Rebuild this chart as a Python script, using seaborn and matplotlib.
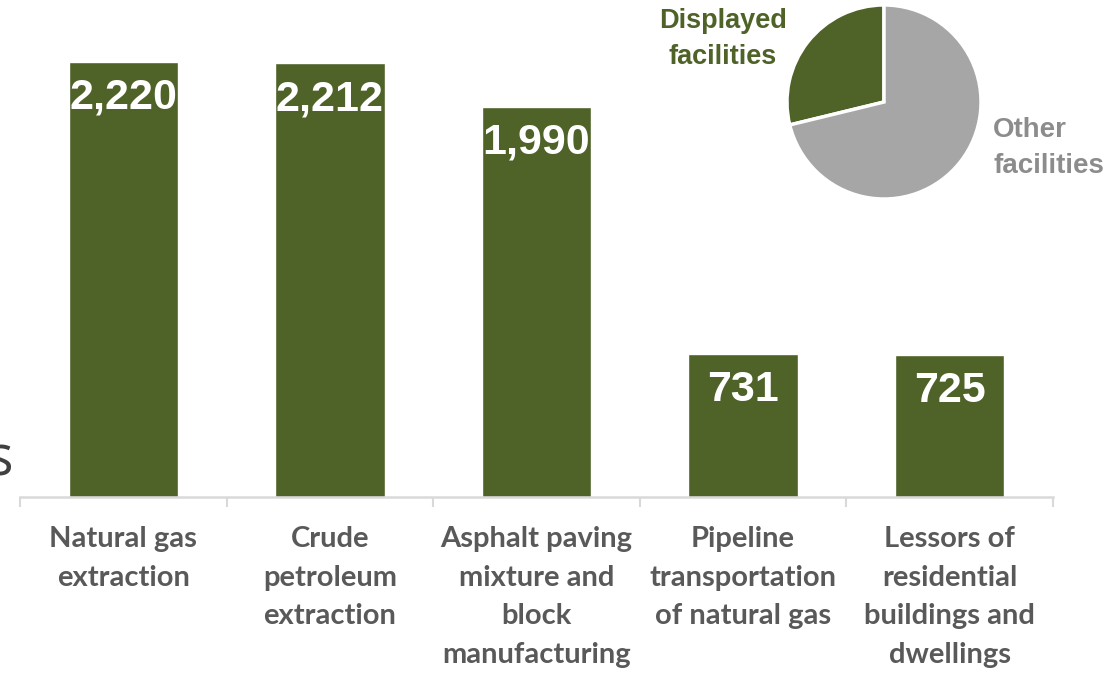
import matplotlib
matplotlib.use("Agg")
import matplotlib.pyplot as plt
import seaborn as sns
import numpy as np

# data
categories = [
    "Natural gas\nextraction",
    "Crude\npetroleum\nextraction",
    "Asphalt paving\nmixture and\nblock\nmanufacturing",
    "Pipeline\ntransportation\nof natural gas",
    "Lessors of\nresidential\nbuildings and\ndwellings",
]
facilities = [2220, 2212, 1990, 731, 725]
pie_labels = ["Displayed\nfacilities", "Other\nfacilities"]
pie_shares = [28.8, 71.2]

GREEN = "#4F6228"
GRAY = "#A6A6A6"
AXIS_GRAY = "#D9D9D9"
TEXT_GRAY = "#595959"

sns.set_theme(style="white")
plt.rcParams["font.family"] = ["Lato", "DejaVu Sans"]

fig = plt.figure(figsize=(11.17, 6.75), dpi=100)
W, H = 1117, 675

# main bar axes (pixel geometry -> figure fractions)
ax = fig.add_axes([20 / W, 178 / H, 1033 / W, 470.6 / H])
sns.barplot(x=categories, y=facilities, color=GREEN, saturation=1,
            width=0.53, ax=ax)
ax.set_ylim(0, 2400)
ax.set_xlim(-0.5, len(categories) - 0.5)
ax.set_yticks([])
ax.set_ylabel("")
for s in ["left", "top", "right"]:
    ax.spines[s].set_visible(False)
ax.spines["bottom"].set_color(AXIS_GRAY)
ax.spines["bottom"].set_linewidth(1.8)

# labels at bar centers, separator ticks at the boundaries
ax.set_xticks(range(len(categories)))
ax.set_xticklabels(categories, fontsize=21, fontweight="bold",
                   color=TEXT_GRAY, linespacing=1.6, va="top")
ax.tick_params(axis="x", which="major", length=0, pad=21)
ax.set_xticks(np.arange(-0.5, len(categories)), minor=True)
ax.tick_params(axis="x", which="minor", bottom=True, length=7, width=1.5,
               color=AXIS_GRAY, direction="out")

# value labels inside bar tops
for patch, v in zip(ax.patches, facilities):
    cx = patch.get_x() + patch.get_width() / 2
    ax.annotate(f"{v:,}", xy=(cx, patch.get_height()),
                xytext=(0, -26), textcoords="offset points",
                ha="center", va="center", color="white",
                fontsize=31, fontweight="bold",
                family=["Liberation Sans", "DejaVu Sans"])

# cut-off axis title at the left edge
fig.text(13 / W, 1 - 475 / H, "s", ha="right", va="baseline",
         fontsize=40, color="#404040", family=["Open Sans", "DejaVu Sans"])

# inset pie
pax = fig.add_axes([786 / W, 1 - 200 / H, 196 / W, 196 / H])
pax.pie(pie_shares, colors=[GREEN, GRAY], startangle=90,
        counterclock=True,
        wedgeprops=dict(edgecolor="white", linewidth=2.5))
pax.set_xlim(-1.01, 1.01)
pax.set_ylim(-1.01, 1.01)
pax.set_aspect("equal")

fig.text(723 / W, 1 - 39 / H, pie_labels[0], ha="center", va="center",
         fontsize=19.5, fontweight="bold", color=GREEN, linespacing=1.55,
         family=["Liberation Sans", "DejaVu Sans"])
fig.text(993 / W, 1 - 148 / H, pie_labels[1], ha="left", va="center",
         fontsize=20, fontweight="bold", color="#8C8C8C", linespacing=1.5,
         family=["Liberation Sans", "DejaVu Sans"])

fig.savefig("out.png", dpi=100)
